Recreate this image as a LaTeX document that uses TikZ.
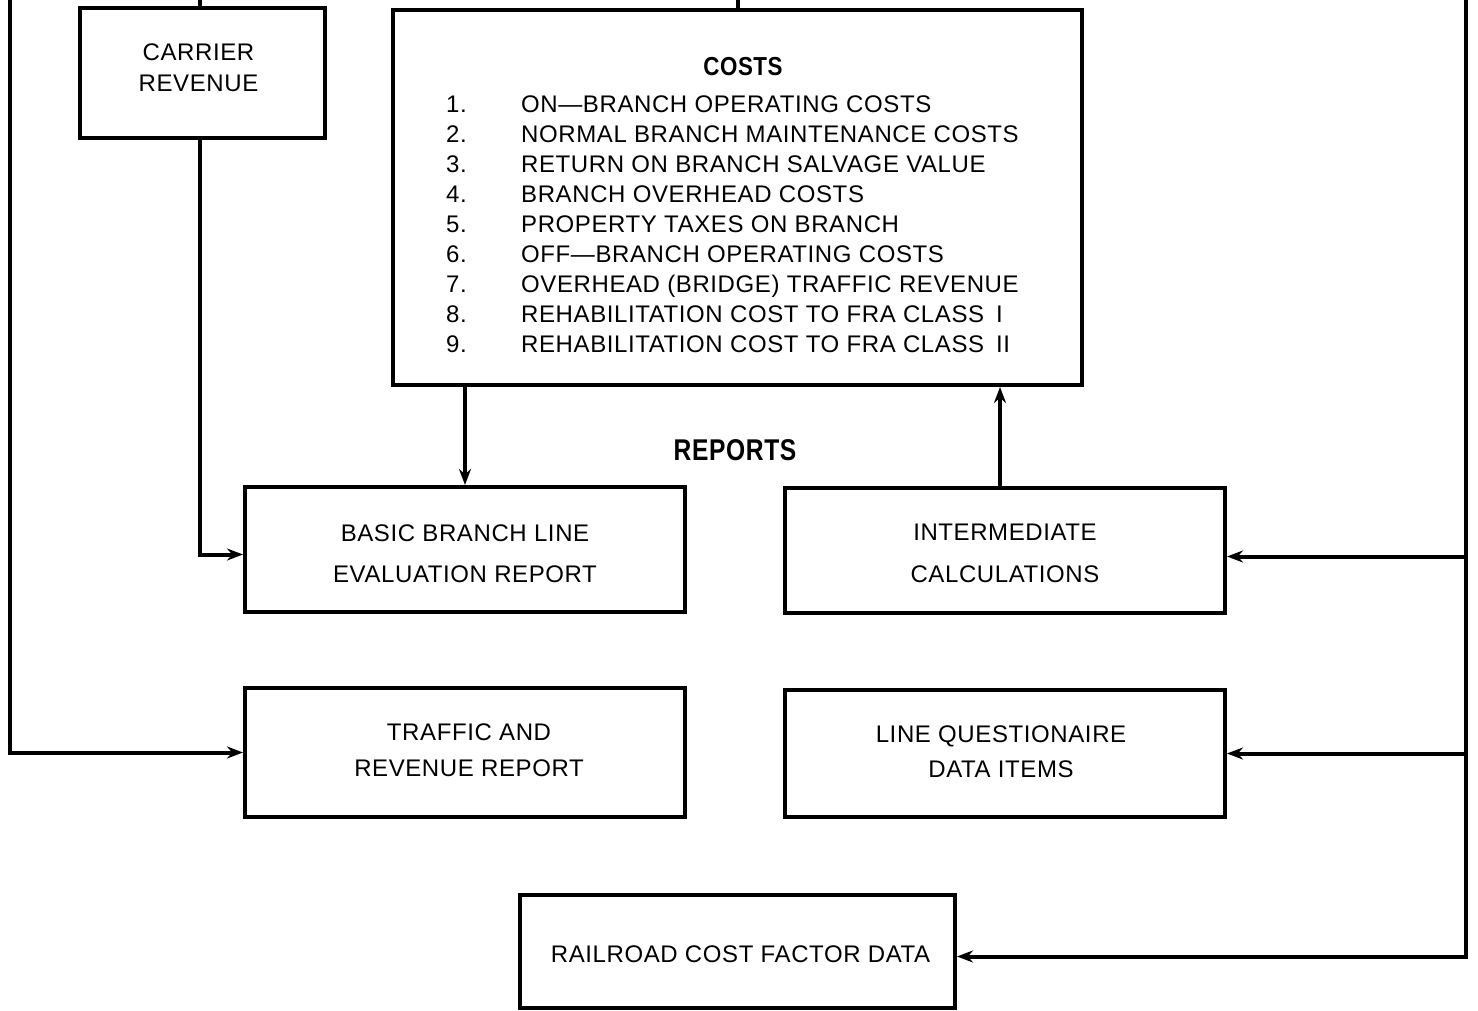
\documentclass[tikz,border=0pt]{standalone}
\usepackage{fontspec}
\setmainfont{Liberation Sans}[LetterSpace=2.5]
\usetikzlibrary{arrows.meta}

\begin{document}
\begin{tikzpicture}[x=1pt,y=-1pt,
  box/.style={draw, line width=4pt, rectangle, inner sep=0pt},
  boxtext/.style={inner sep=0pt, align=center, font=\fontsize{24}{#1}\selectfont},
  link/.style={line width=4pt},
  arr/.style={link, -{Stealth[length=16pt,width=12pt]}},
  itemtext/.style={anchor=base west, inner sep=0pt, font=\fontsize{24}{28}\selectfont},
  heading/.style={inner sep=0pt, font=\bfseries\fontsize{#1}{30}\selectfont}
]
\useasboundingbox (0,0) rectangle (1478,1011);

% boxes
\node[box, minimum width=245pt, minimum height=130pt] (carrier) at (202.5,73) {};
\node[box, minimum width=689pt, minimum height=375pt] (costs) at (737.5,197.5) {};
\node[box, minimum width=440pt, minimum height=125pt] (basic) at (465,549.5) {};
\node[box, minimum width=440pt, minimum height=125pt] (inter) at (1005,550.5) {};
\node[box, minimum width=440pt, minimum height=129pt] (traffic) at (465,752.5) {};
\node[box, minimum width=440pt, minimum height=127pt] (lineq) at (1005,753.5) {};
\node[box, minimum width=435pt, minimum height=113pt] (rail) at (737.5,951.5) {};

% box texts
\node[boxtext=31pt] (carrier-text) at ([xshift=-4pt,yshift=5pt]carrier.center) {CARRIER\\REVENUE};
\node[boxtext=41pt] (basic-text) at ([yshift=-4pt]basic.center) {BASIC BRANCH LINE\\EVALUATION REPORT};
\node[boxtext=42pt] (inter-text) at ([yshift=-3pt]inter.center) {INTERMEDIATE\\CALCULATIONS};
\node[boxtext=36pt] (traffic-text) at ([xshift=4pt,yshift=2pt]traffic.center) {TRAFFIC AND\\REVENUE REPORT};
\node[boxtext=35pt] (lineq-text) at ([xshift=-4pt,yshift=2pt]lineq.center) {LINE QUESTIONAIRE\\DATA ITEMS};
\node[boxtext=30pt] (rail-text) at ([xshift=3pt,yshift=-3pt]rail.center) {RAILROAD COST FACTOR DATA};

% headings
\node[heading=26pt] (coststitle) at (743,67) {\scalebox{0.86}[1]{COSTS}};
\node[heading=30pt] (reports) at (735,450) {\scalebox{0.82}[1]{REPORTS}};

% cost items
\foreach \t [count=\i] in {
  ON---BRANCH OPERATING COSTS,
  NORMAL BRANCH MAINTENANCE COSTS,
  RETURN ON BRANCH SALVAGE VALUE,
  BRANCH OVERHEAD COSTS,
  PROPERTY TAXES ON BRANCH,
  OFF---BRANCH OPERATING COSTS,
  OVERHEAD (BRIDGE) TRAFFIC REVENUE,
  REHABILITATION COST TO FRA CLASS\hspace{0.5em}I,
  REHABILITATION COST TO FRA CLASS\hspace{0.5em}II}{
  \node[itemtext] (num\i) at (446,{112.5+30*(\i-1)}) {\i.};
  \node[itemtext] (item\i) at (521,{112.5+30*(\i-1)}) {\t};
}

% free ends of the buses
\coordinate (topedge) at (0,0);
\coordinate (leftbus) at (10,0);
\coordinate (rightbus) at (1466,0);

% connectors
\draw[link] ([xshift=-2.5pt]carrier.north) -- ([xshift=-2.5pt]carrier.north |- topedge);
\draw[link] (costs.north) -- (costs.north |- topedge);
\draw[arr] (leftbus) |- (traffic.west);
\draw[arr] ([xshift=-2.5pt]carrier.south) |- ([yshift=-5pt]basic.west);
\draw[arr] (costs.south -| basic.north) -- (basic.north);
\draw[arr] ([xshift=-5pt]inter.north) -- ([xshift=-5pt]inter.north |- costs.south);
\draw[arr] (rightbus) |- ([yshift=-5pt]rail.east);
\draw[arr] ([yshift=-6pt]rightbus |- inter.east) -- ([yshift=-6pt]inter.east);
\draw[arr] (rightbus |- lineq.east) -- (lineq.east);
\end{tikzpicture}
\end{document}
